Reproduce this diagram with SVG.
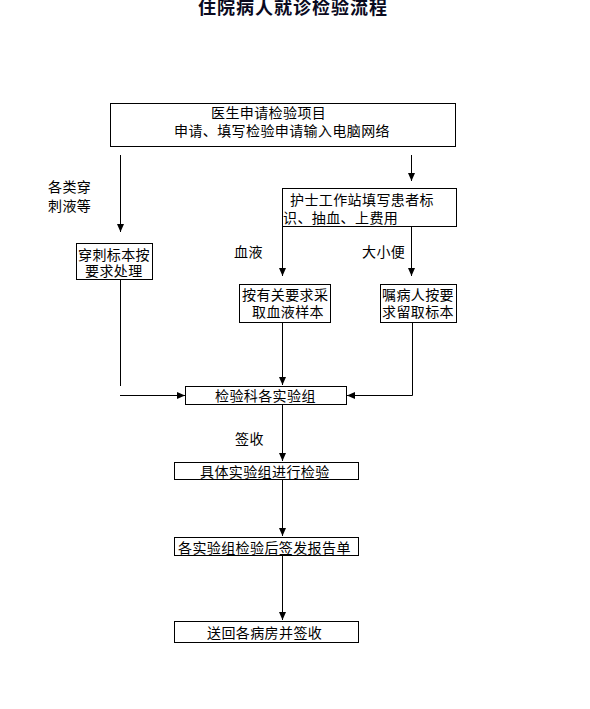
<svg xmlns="http://www.w3.org/2000/svg" width="590" height="709" viewBox="0 0 590 709">
<style>
.t{font-family:"Noto Sans CJK SC","Noto Sans CJK JP",sans-serif;font-size:14px;fill:#000;letter-spacing:0.4px}
.ttl{font-family:"Noto Sans CJK SC","Noto Sans CJK JP",sans-serif;font-size:18px;font-weight:bold;fill:#0a0a1e;letter-spacing:1px}
.b{fill:#fff;stroke:#000;stroke-width:1}
.c{fill:none;stroke:#000;stroke-width:1}
</style>
<defs>
<marker id="ah" markerUnits="userSpaceOnUse" markerWidth="8" markerHeight="7" refX="8" refY="3.5" orient="auto">
<path d="M0,0 L8,3.5 L0,7 z" fill="#000"/>
</marker>
</defs>
<rect width="590" height="709" fill="#fff"/>
<text class="ttl" x="198" y="14">住院病人就诊检验流程</text>

<g id="connectors">
<line class="c" x1="120.5" y1="155" x2="120.5" y2="232" marker-end="url(#ah)"/>
<line class="c" x1="411.5" y1="155" x2="411.5" y2="181" marker-end="url(#ah)"/>
<line class="c" x1="282.5" y1="226" x2="282.5" y2="276" marker-end="url(#ah)"/>
<line class="c" x1="411.5" y1="226" x2="411.5" y2="276" marker-end="url(#ah)"/>
<line class="c" x1="120.5" y1="279" x2="120.5" y2="386"/>
<line class="c" x1="120" y1="395.5" x2="185" y2="395.5" marker-end="url(#ah)"/>
<line class="c" x1="282.5" y1="323" x2="282.5" y2="385" marker-end="url(#ah)"/>
<polyline class="c" points="412.5,323 412.5,395.5 347,395.5" marker-end="url(#ah)"/>
<line class="c" x1="282.5" y1="404" x2="282.5" y2="461" marker-end="url(#ah)"/>
<line class="c" x1="282.5" y1="479" x2="282.5" y2="536" marker-end="url(#ah)"/>
<line class="c" x1="282.5" y1="555" x2="282.5" y2="620" marker-end="url(#ah)"/>
<text class="t" x="48" y="192">各类穿</text>
<text class="t" x="48" y="211">刺液等</text>
<text class="t" x="234" y="257">血液</text>
<text class="t" x="362" y="257">大小便</text>
<text class="t" x="235" y="444">签收</text>
</g>

<g id="n1">
<rect class="b" x="110.5" y="103.5" width="345" height="43"/>
<text class="t" x="211" y="118">医生申请检验项目</text>
<text class="t" x="174" y="136">申请、填写检验申请输入电脑网络</text>
</g>
<g id="n2">
<rect class="b" x="282.5" y="188.5" width="174" height="38"/>
<text class="t" x="290" y="205">护士工作站填写患者标</text>
<text class="t" x="283" y="223">识、抽血、上费用</text>
</g>
<g id="n3">
<rect class="b" x="76.5" y="243.5" width="76" height="36"/>
<text class="t" x="78" y="260">穿刺标本按</text>
<text class="t" x="85" y="276">要求处理</text>
</g>
<g id="n4">
<rect class="b" x="239.5" y="284.5" width="91" height="38"/>
<text class="t" x="242" y="300">按有关要求采</text>
<text class="t" x="252" y="317">取血液样本</text>
</g>
<g id="n5">
<rect class="b" x="380.5" y="284.5" width="76" height="38"/>
<text class="t" x="382" y="300">嘱病人按要</text>
<text class="t" x="382" y="317">求留取标本</text>
</g>
<g id="n6">
<rect class="b" x="185.5" y="386.5" width="161" height="18"/>
<text class="t" x="215" y="401">检验科各实验组</text>
</g>
<g id="n7">
<rect class="b" x="174.5" y="462.5" width="184" height="17"/>
<text class="t" x="200" y="477">具体实验组进行检验</text>
</g>
<g id="n8">
<rect class="b" x="174.5" y="537.5" width="184" height="18"/>
<text class="t" x="178" y="553">各实验组检验后签发报告单</text>
</g>
<g id="n9">
<rect class="b" x="174.5" y="621.5" width="184" height="21"/>
<text class="t" x="207" y="638">送回各病房并签收</text>
</g>
</svg>
